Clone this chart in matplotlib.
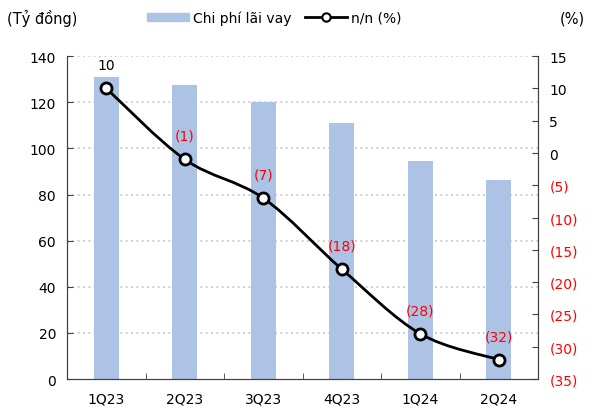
import numpy as np
import matplotlib.pyplot as plt
from matplotlib.path import Path
from matplotlib.patches import PathPatch, Patch
from matplotlib.lines import Line2D

quarters = ['1Q23', '2Q23', '3Q23', '4Q23', '1Q24', '2Q24']
interest_cost = [131, 127.5, 120, 111, 94.5, 86.5]   # Tỷ đồng
yoy = [10, -1, -7, -18, -28, -32]                    # %

bar_color = '#adc3e6'
red = '#ff0000'

plt.rcParams['font.family'] = ['DejaVu Sans']
plt.rcParams['font.size'] = 10

fig = plt.figure(figsize=(5.94, 4.14), dpi=100)
ax = fig.add_axes([0.113, 0.082, 0.793, 0.78])
ax2 = ax.twinx()

x = np.arange(len(quarters))
ax.bar(x, interest_cost, width=0.32, color=bar_color, zorder=2)
ax.set_xlim(-0.5, len(quarters) - 0.5)
ax.set_ylim(0, 140)
ax.set_yticks(np.arange(0, 141, 20))
ax.set_xticks(x)
ax.set_xticklabels(quarters)
ax.set_xticks(np.arange(0.5, len(quarters) - 0.5, 1), minor=True)
ax.tick_params(axis='x', which='major', length=0, pad=9)
ax.tick_params(axis='x', which='minor', direction='in', length=4, color='#404040')
ax.tick_params(axis='y', direction='in', length=4, color='#404040', pad=8)
for v in range(20, 141, 20):
    ax.axhline(v, color='#c8c8c8', lw=1.2, ls=(0, (1.2, 2)), zorder=1)

for s in ['top']:
    ax.spines[s].set_visible(False)
    ax2.spines[s].set_visible(False)
for s in ['left', 'bottom', 'right']:
    ax.spines[s].set_color('#404040')
    ax2.spines[s].set_color('#404040')

# right axis: yoy change, negatives in red with parentheses
ax2.set_ylim(-35, 15)
rticks = np.arange(-35, 16, 5)
ax2.set_yticks(rticks)
ax2.set_yticklabels([f'({-t})' if t < 0 else str(t) for t in rticks])
for lbl, t in zip(ax2.get_yticklabels(), rticks):
    if t < 0:
        lbl.set_color(red)
ax2.tick_params(axis='y', direction='in', length=4, color='#404040', pad=8)

# smooth line through points (Catmull-Rom -> cubic Bezier)
pts = np.column_stack([x, yoy]).astype(float)
verts = [tuple(pts[0])]
codes = [Path.MOVETO]
for i in range(len(pts) - 1):
    p0 = pts[i - 1] if i > 0 else pts[i]
    p1, p2 = pts[i], pts[i + 1]
    p3 = pts[i + 2] if i + 2 < len(pts) else pts[i + 1]
    c1 = p1 + (p2 - p0) / 6
    c2 = p2 - (p3 - p1) / 6
    verts += [tuple(c1), tuple(c2), tuple(p2)]
    codes += [Path.CURVE4] * 3
ax2.add_patch(PathPatch(Path(verts, codes), fill=False, lw=2, edgecolor='black', zorder=3))
ax2.plot(x, yoy, ls='none', marker='o', ms=8, mfc='white', mec='black', mew=2, zorder=4)

for xi, v in zip(x, yoy):
    txt = f'({-v})' if v < 0 else str(v)
    ax2.annotate(txt, (xi, v), xytext=(0, 12), textcoords='offset points',
                 ha='center', va='bottom', color=red if v < 0 else 'black')

fig.text(0.012, 0.955, '(Tỷ đồng)', ha='left', va='center', fontsize=10.5)
fig.text(0.985, 0.955, '(%)', ha='right', va='center', fontsize=10.5)

handles = [Patch(color=bar_color),
           Line2D([], [], color='black', lw=2, marker='o', ms=6, mfc='white', mec='black', mew=1.5)]
fig.legend(handles, ['Chi phí lãi vay', 'n/n (%)'], loc='center', bbox_to_anchor=(0.462, 0.955),
           ncol=2, frameon=False, fontsize=10, handlelength=3.0, handleheight=0.6,
           columnspacing=1.0, handletextpad=0.3)

fig.savefig('out.png', dpi=100)
